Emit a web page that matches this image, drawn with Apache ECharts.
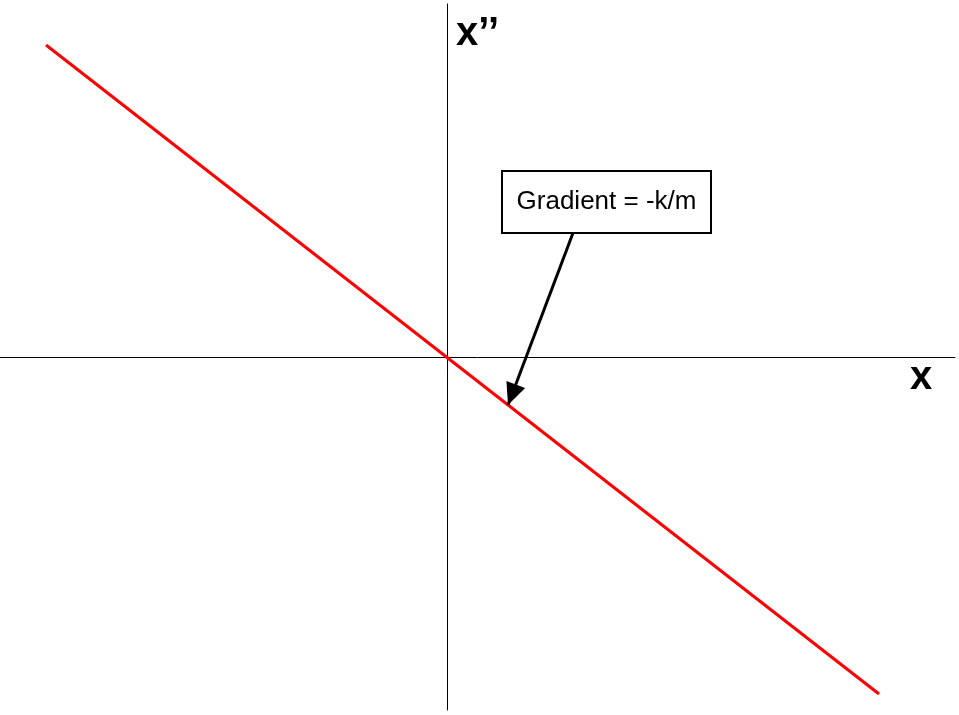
<!DOCTYPE html>
<html>
<head>
<meta charset="utf-8">
<script src="https://cdn.jsdelivr.net/npm/echarts@6/dist/echarts.min.js"></script>
<style>
  html, body { margin: 0; padding: 0; background: #fff; }
  #main { width: 959px; height: 715px; }
</style>
</head>
<body>
<div id="main"></div>
<script>
// axis ranges (arbitrary units, origin where the axes cross)
const xRange = [-4.47, 5.08]
const yRange = [-3.53, 3.53]
// the straight line x'' = -(k/m) x, two end points
const lineX = [-4.01, 4.32]
const lineY = [3.12, -3.37]
// annotation: box corners and arrow from box to the line
const noteText = 'Gradient = -k/m'
const noteBox = [[0.55, 1.86], [2.64, 1.24]]
const arrowFrom = [1.26, 1.24]
const arrowTo = [0.61, -0.48]

// plain triangle head, tip sits at the centre of its box so it ends on the line
const arrowHead = 'path://M0,-22 M0,0 L10,22 L-10,22 Z'

let myChart = echarts.init(document.getElementById('main'))
let option = {
  animation: false,
  grid: { left: 0, right: 4, top: 4, bottom: 5 },
  xAxis: {
    type: 'value',
    min: xRange[0],
    max: xRange[1],
    axisLine: { show: true, onZero: true, lineStyle: { color: '#000', width: 1 } },
    axisTick: { show: false },
    axisLabel: { show: false },
    splitLine: { show: false }
  },
  yAxis: {
    type: 'value',
    min: yRange[0],
    max: yRange[1],
    axisLine: { show: true, onZero: true, lineStyle: { color: '#000', width: 1 } },
    axisTick: { show: false },
    axisLabel: { show: false },
    splitLine: { show: false }
  },
  graphic: [
    {
      type: 'text', left: 456, top: 14,
      style: { text: 'x\u2019\u2019', font: 'bold 40px "Liberation Sans", Arial, sans-serif', fill: '#000' }
    },
    {
      type: 'text', left: 910, top: 358,
      style: { text: 'x', font: 'bold 40px "Liberation Sans", Arial, sans-serif', fill: '#000' }
    }
  ],
  series: [
    {
      type: 'line',
      data: lineX.map((x, i) => [x, lineY[i]]),
      symbol: 'none',
      lineStyle: { color: '#ff0000', width: 3 },
      silent: true,
      markLine: {
        silent: true,
        symbol: ['none', arrowHead],
        symbolSize: [20, 44],
        label: { show: false },
        lineStyle: { color: '#000', width: 3, type: 'solid' },
        data: [[{ coord: arrowFrom }, { coord: arrowTo }]]
      },
      markArea: {
        silent: true,
        itemStyle: { color: '#fff', borderColor: '#000', borderWidth: 2, opacity: 1 },
        label: {
          show: true,
          position: 'inside',
          color: '#000',
          fontSize: 26,
          fontFamily: '"Liberation Sans", Arial, sans-serif'
        },
        data: [[{ name: noteText, coord: noteBox[0] }, { coord: noteBox[1] }]]
      }
    }
  ]
}
myChart.setOption(option)
</script>
</body>
</html>
